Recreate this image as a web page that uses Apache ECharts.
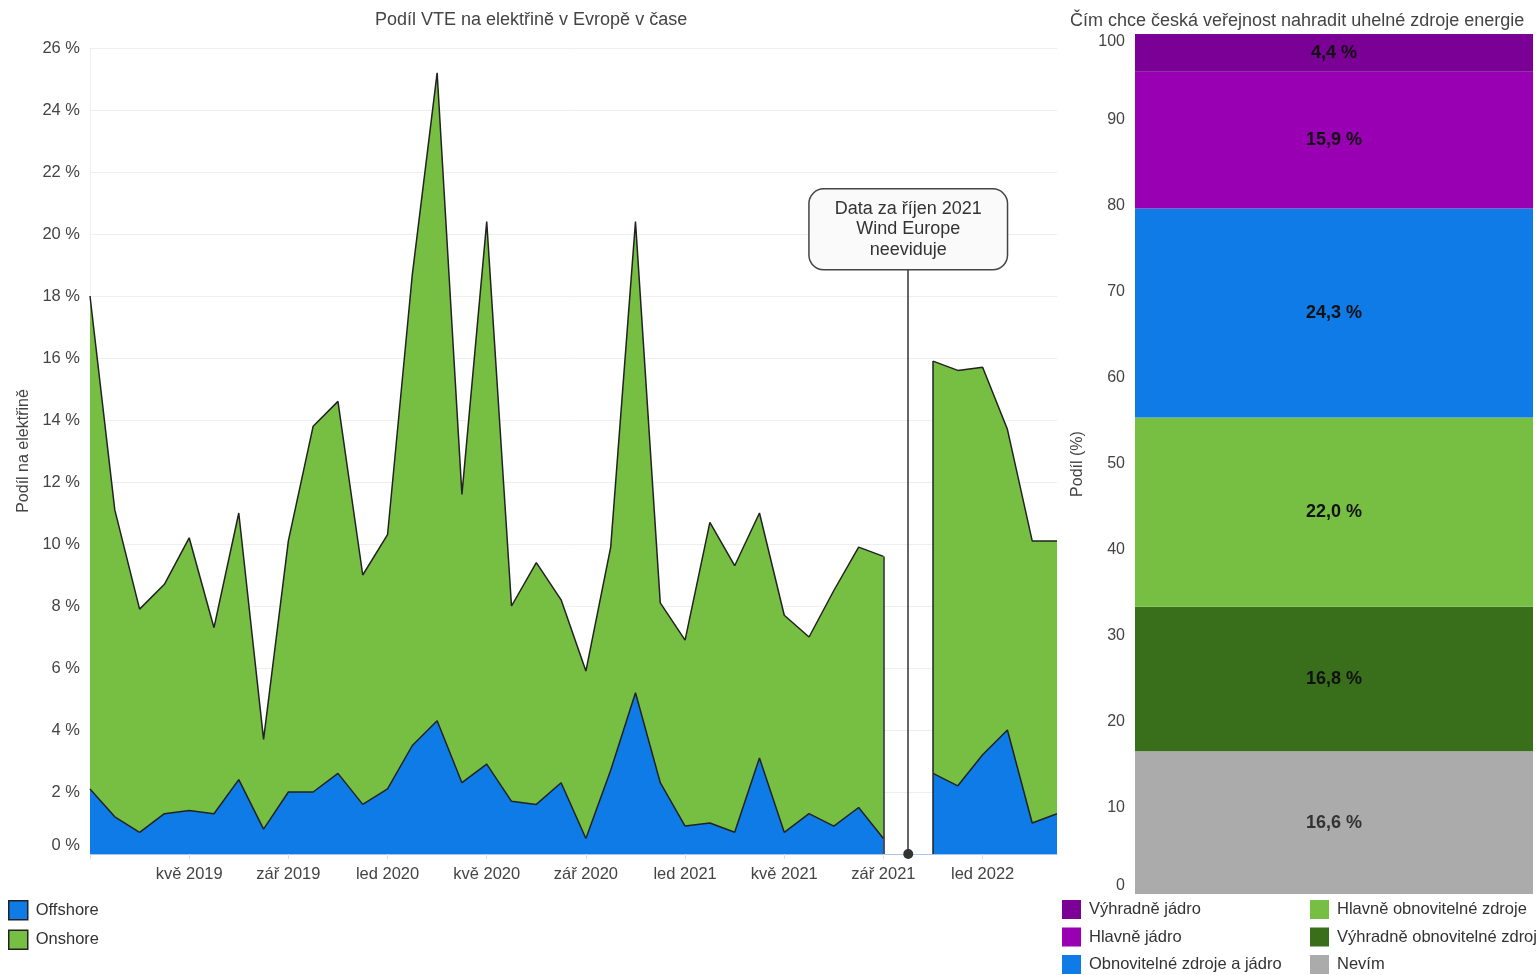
<!DOCTYPE html>
<html>
<head>
<meta charset="utf-8">
<script src="https://cdn.jsdelivr.net/npm/echarts@6/dist/echarts.min.js"></script>
<style>
html,body{margin:0;padding:0;background:#fff;}
#chart{width:1537px;height:975px;}
</style>
</head>
<body>
<div id="chart"></div>
<script>
// ---- Data: Wind share of electricity in Europe (monthly) ----
var months = [
  'led 2019','úno 2019','bře 2019','dub 2019','kvě 2019','čvn 2019','čvc 2019','srp 2019','zář 2019','říj 2019','lis 2019','pro 2019',
  'led 2020','úno 2020','bře 2020','dub 2020','kvě 2020','čvn 2020','čvc 2020','srp 2020','zář 2020','říj 2020','lis 2020','pro 2020',
  'led 2021','úno 2021','bře 2021','dub 2021','kvě 2021','čvn 2021','čvc 2021','srp 2021','zář 2021','říj 2021','lis 2021','pro 2021',
  'led 2022','úno 2022','bře 2022','dub 2022'
];
var offshore = [
  2.1,1.2,0.7,1.3,1.4,1.3,2.4,0.8,2.0,2.0,2.6,1.6,
  2.1,3.5,4.3,2.3,2.9,1.7,1.6,2.3,0.5,2.7,5.2,2.3,
  0.9,1.0,0.7,3.1,0.7,1.3,0.9,1.5,0.5,null,2.6,2.2,
  3.2,4.0,1.0,1.3
];
var onshore = [
  15.9,9.9,7.2,7.4,8.8,6.0,8.6,2.9,8.1,11.8,12.0,7.4,
  8.2,15.2,20.9,9.3,17.5,6.3,7.8,5.9,5.4,7.2,15.2,5.8,
  6.0,9.7,8.6,7.9,7.0,5.7,7.6,8.4,9.1,null,13.3,13.4,
  12.5,9.7,9.1,8.8
];
var missingMonth = 'říj 2021';
var calloutText = 'Data za říjen 2021\nWind Europe\nneeviduje';

// ---- Data: survey (stacked from bottom) ----
var surveyNames = ['Nevím','Výhradně obnovitelné zdroje','Hlavně obnovitelné zdroje','Obnovitelné zdroje a jádro','Hlavně jádro','Výhradně jádro'];
var surveyValues = [16.6, 16.8, 22.0, 24.3, 15.9, 4.4];
var surveyColors = ['#ababab','#396f1b','#76bf43','#0e7be6','#9900b3','#7a0096'];

var FONT = "'Liberation Sans', Arial, sans-serif";
var chart = echarts.init(document.getElementById('chart'));

var gi = months.indexOf(missingMonth);
function total(i){ return offshore[i] + onshore[i]; }

var edgeStyle = {type:'solid', color:'#222', width:1.5};

var barSeries = surveyNames.map(function(n, i){
  return {
    name: n, type: 'bar', stack: 'survey', xAxisIndex: 1, yAxisIndex: 1,
    barWidth: '100%', data: [surveyValues[i]],
    itemStyle: {color: surveyColors[i]},
    label: {show: true, position: 'inside', fontFamily: FONT, fontSize: 18, fontWeight: 'bold',
      color: i === 0 ? '#333' : '#111',
      formatter: function(p){ return p.value.toFixed(1).replace('.', ',') + ' %'; }},
    emphasis: {disabled: true}
  };
});

var legendText = {fontFamily: FONT, fontSize: 16.5, color: '#333', padding: [0, 0, 0, 3]};

var option = {
  animation: false,
  textStyle: {fontFamily: FONT},
  title: [
    {text: 'Podíl VTE na elektřině v Evropě v čase', left: 375, top: 11, padding: 0,
     textStyle: {fontFamily: FONT, fontSize: 18, fontWeight: 'normal', color: '#444'}},
    {text: 'Čím chce česká veřejnost nahradit uhelné zdroje energie', left: 1070, top: 12, padding: 0,
     textStyle: {fontFamily: FONT, fontSize: 18, fontWeight: 'normal', color: '#444'}}
  ],
  legend: [
    {data: ['Offshore','Onshore'], orient: 'vertical', left: 8, top: 900, padding: 0,
     itemWidth: 19, itemHeight: 19, itemGap: 9, icon: 'rect',
     itemStyle: {borderColor: '#222', borderWidth: 1.5},
     textStyle: legendText},
    {data: ['Výhradně jádro','Hlavně jádro','Obnovitelné zdroje a jádro'], orient: 'vertical', left: 1062, top: 900, padding: 0,
     itemWidth: 19, itemHeight: 19, itemGap: 8.5, icon: 'rect',
     textStyle: legendText},
    {data: ['Hlavně obnovitelné zdroje','Výhradně obnovitelné zdroje','Nevím'], orient: 'vertical', left: 1310, top: 900, padding: 0,
     itemWidth: 19, itemHeight: 19, itemGap: 8.5, icon: 'rect',
     textStyle: legendText}
  ],
  grid: [
    {left: 90, right: 480, top: 48, bottom: 121},
    {left: 1135, right: 4, top: 34, bottom: 81}
  ],
  xAxis: [
    {type: 'category', gridIndex: 0, data: months, boundaryGap: false,
     axisLine: {show: true, lineStyle: {color: '#a9c6ea', width: 1}},
     axisTick: {show: true, interval: function(i){ return i % 4 === 0; }, length: 5, lineStyle: {color: '#ddd'}},
     axisLabel: {interval: function(i){ return i % 4 === 0 && i > 0; }, color: '#444', fontSize: 16.5, margin: 12, fontFamily: FONT},
     splitLine: {show: false}},
    {type: 'category', gridIndex: 1, data: [''], show: false}
  ],
  yAxis: [
    {type: 'value', gridIndex: 0, min: 0, max: 26, interval: 2,
     name: 'Podíl na elektřině', nameLocation: 'middle', nameGap: 58, nameRotate: 90,
     nameTextStyle: {fontFamily: FONT, fontSize: 16, color: '#444'},
     axisLine: {show: true, lineStyle: {color: '#eee'}},
     axisTick: {show: false},
     axisLabel: {formatter: '{value} %', color: '#444', fontSize: 16.5, margin: 10, fontFamily: FONT, verticalAlignMinLabel: 'bottom'},
     splitLine: {show: true, lineStyle: {color: '#eeeeee'}}},
    {type: 'value', gridIndex: 1, min: 0, max: 100, interval: 10,
     name: 'Podíl (%)', nameLocation: 'middle', nameGap: 49, nameRotate: 90,
     nameTextStyle: {fontFamily: FONT, fontSize: 16, color: '#444'},
     axisLine: {show: false}, axisTick: {show: false},
     axisLabel: {color: '#444', fontSize: 16, margin: 10, fontFamily: FONT, verticalAlignMinLabel: 'bottom', verticalAlignMaxLabel: 'top'},
     splitLine: {show: false}}
  ],
  series: [
    {name: 'Offshore', type: 'line', stack: 'vte', xAxisIndex: 0, yAxisIndex: 0, data: offshore,
     color: '#0e7be6', showSymbol: false, symbol: 'none', connectNulls: false,
     lineStyle: {color: '#222', width: 1.5}, areaStyle: {color: '#0e7be6', opacity: 1},
     itemStyle: {color: '#0e7be6'}, emphasis: {disabled: true}, z: 3},
    {name: 'Onshore', type: 'line', stack: 'vte', xAxisIndex: 0, yAxisIndex: 0, data: onshore,
     color: '#76bf43', showSymbol: false, symbol: 'none', connectNulls: false,
     lineStyle: {color: '#222', width: 1.5}, areaStyle: {color: '#76bf43', opacity: 1},
     itemStyle: {color: '#76bf43'}, emphasis: {disabled: true}, z: 2,
     markLine: {silent: true, symbol: 'none', label: {show: false}, animation: false,
       data: [
         [{coord: [months[gi - 1], 0], lineStyle: edgeStyle}, {coord: [months[gi - 1], total(gi - 1)]}],
         [{coord: [months[gi + 1], 0], lineStyle: edgeStyle}, {coord: [months[gi + 1], total(gi + 1)]}],
         [{coord: [missingMonth, 0], symbol: 'circle', symbolSize: 10, lineStyle: {type: 'solid', color: '#333', width: 1.5}},
          {coord: [missingMonth, 18.84], symbol: 'none'}]
       ]},
     markPoint: {silent: true, animation: false,
       data: [{coord: [missingMonth, 20.15], symbol: 'rect', symbolSize: 1, itemStyle: {color: 'rgba(0,0,0,0)'},
         label: {show: true, position: 'inside', formatter: calloutText, fontFamily: FONT, fontSize: 18,
           color: '#333', align: 'center', lineHeight: 20.5, backgroundColor: '#fafafa',
           borderColor: '#444', borderWidth: 1.5, borderRadius: 14, padding: [9, 25, 9, 25]}}]}}
  ].concat(barSeries)
};
chart.setOption(option);
</script>
</body>
</html>
